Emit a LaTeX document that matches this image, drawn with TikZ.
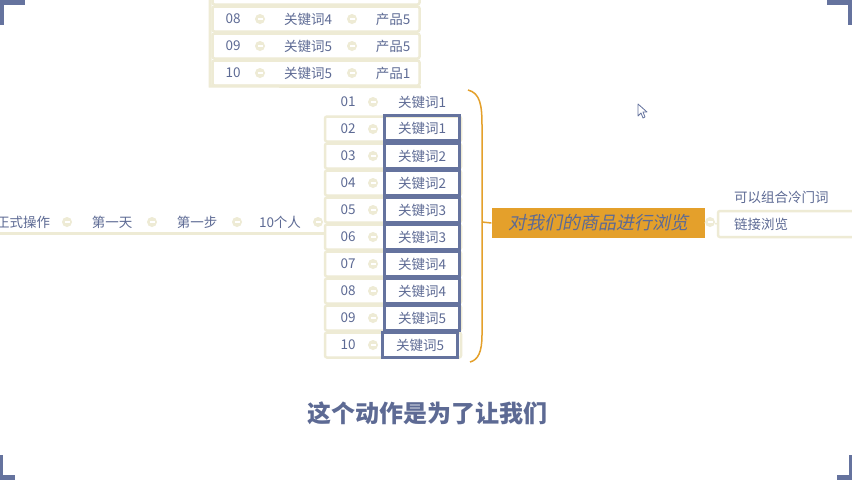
\documentclass[tikz,border=0pt]{standalone}
\usepackage{fontspec}
\setmainfont{Noto Sans CJK SC}
\newfontfamily\slantfont[FakeSlant=0.2]{Noto Sans CJK SC}
\definecolor{slate}{HTML}{65739E}
\definecolor{ink}{HTML}{5D6A94}
\definecolor{beige}{HTML}{EEEBD5}
\definecolor{amber}{HTML}{E4A02B}
\begin{document}
\begin{tikzpicture}[x=1pt, y=-1pt,
    txt/.style={text=ink, font=\fontsize{13.5}{15}\selectfont, inner sep=1pt},
    dot/.style={circle, fill=beige, minimum size=10pt, inner sep=0pt,
        path picture={\draw[white, line width=1.2pt] ([xshift=-2.5pt]path picture bounding box.center) -- ([xshift=2.5pt]path picture bounding box.center);}},
    rowbox/.style={draw=beige, line width=2.5pt, rounded corners=2pt, minimum height=25pt},
    kbox/.style={txt, draw=slate, line width=3.5pt, minimum width=75pt, minimum height=25pt}]
\clip (0,0) rectangle (852,480);
\fill[white] (0,0) rectangle (852,480);

\fill[slate] (0,0) rectangle (25,5);
\fill[slate] (0,0) rectangle (4,25);
\fill[slate] (827,0) rectangle (852,5);
\fill[slate] (848,0) rectangle (852,25);
\fill[slate] (0,475) rectangle (15,480);
\fill[slate] (0,455) rectangle (3,480);
\fill[slate] (837,475) rectangle (852,480);
\fill[slate] (849,455) rectangle (852,480);

\node (t07) at (316,-8) [rowbox, minimum width=207pt] {};
\node (t08) at (316,19) [rowbox, minimum width=207pt] {};
\node (t09) at (316,46) [rowbox, minimum width=207pt] {};
\node (t10) at (316,73) [rowbox, minimum width=207pt] {};
\draw[beige, line width=3pt] (210,0) -- (210,86) -- (t10.south east);
\node (a08) at (233,19) [txt] {08};
\node (b08) at (260,19) [dot] {};
\node (c08) at (308,19) [txt] {关键词4};
\node (e08) at (352,19) [dot] {};
\node (f08) at (393,19) [txt] {产品5};
\node (a09) at (233,46) [txt] {09};
\node (b09) at (260,46) [dot] {};
\node (c09) at (308,46) [txt] {关键词5};
\node (e09) at (352,46) [dot] {};
\node (f09) at (393,46) [txt] {产品5};
\node (a10) at (233,73) [txt] {10};
\node (b10) at (260,73) [dot] {};
\node (c10) at (308,73) [txt] {关键词5};
\node (e10) at (352,73) [dot] {};
\node (f10) at (393,73) [txt] {产品1};

\coordinate (l0) at (0,233);
\coordinate (l1) at (325,233);
\draw[beige, line width=3pt] (l0) -- (l1);
\node (w1) at (23,222) [txt] {正式操作};
\node (d1) at (67,222) [dot] {};
\node (w2) at (112,222) [txt] {第一天};
\node (d2) at (152,222) [dot] {};
\node (w3) at (197,222) [txt] {第一步};
\node (d3) at (237,222) [dot] {};
\node (w4) at (280,222) [txt] {10个人};
\node (d4) at (318,222) [dot] {};

\node (r02) at (393,129) [rowbox, minimum width=136pt] {};
\node (r03) at (393,156) [rowbox, minimum width=136pt] {};
\node (r04) at (393,183) [rowbox, minimum width=136pt] {};
\node (r05) at (393,210) [rowbox, minimum width=136pt] {};
\node (r06) at (393,237) [rowbox, minimum width=136pt] {};
\node (r07) at (393,264) [rowbox, minimum width=136pt] {};
\node (r08) at (393,291) [rowbox, minimum width=136pt] {};
\node (r09) at (393,318) [rowbox, minimum width=136pt] {};
\node (r10) at (393,345) [rowbox, minimum width=136pt] {};

\node (n01) at (348,102) [txt] {01};
\node (n02) at (348,129) [txt] {02};
\node (n03) at (348,156) [txt] {03};
\node (n04) at (348,183) [txt] {04};
\node (n05) at (348,210) [txt] {05};
\node (n06) at (348,237) [txt] {06};
\node (n07) at (348,264) [txt] {07};
\node (n08) at (348,291) [txt] {08};
\node (n09) at (348,318) [txt] {09};
\node (n10) at (348,345) [txt] {10};
\node (p01) at (373,102) [dot] {};
\node (p02) at (373,129) [dot] {};
\node (p03) at (373,156) [dot] {};
\node (p04) at (373,183) [dot] {};
\node (p05) at (373,210) [dot] {};
\node (p06) at (373,237) [dot] {};
\node (p07) at (373,264) [dot] {};
\node (p08) at (373,291) [dot] {};
\node (p09) at (373,318) [dot] {};
\node (p10) at (373,345) [dot] {};
\node (k01) at (422,102) [txt] {关键词1};
\node (k02) at (422,128) [kbox] {关键词1};
\node (k03) at (422,156) [kbox] {关键词2};
\node (k04) at (422,183) [kbox] {关键词2};
\node (k05) at (422,210) [kbox] {关键词3};
\node (k06) at (422,237) [kbox] {关键词3};
\node (k07) at (422,264) [kbox] {关键词4};
\node (k08) at (422,291) [kbox] {关键词4};
\node (k09) at (422,318) [kbox] {关键词5};
\node (k10) at (420,345) [kbox] {关键词5};

\node (main) at (598,223) [fill=amber, minimum width=213pt, minimum height=30pt, text=ink,
    font=\slantfont\fontsize{18}{20}\selectfont] {对我们的商品进行浏览};
\coordinate (b1) at (468,90);
\coordinate (b2) at (470,362);
\coordinate (bm) at (482,222);
\draw[amber, line width=1.5pt] (b1) .. controls (480,93) and (482,105) .. (482,125)
    -- (482,335) .. controls (482,352) and (478,360) .. (b2);
\draw[amber, line width=1.5pt] (bm) -- (main.west);

\node (e1) at (710,222) [dot] {};
\node (rb) at (789,224) [rowbox, minimum width=142pt, minimum height=26pt] {};
\draw[beige, line width=1.5pt] (main.east) -- (e1);
\draw[beige, line width=1.5pt] (e1) -- (rb.west);
\node (rt) at (733,224) [txt, anchor=west] {链接浏览};
\node (ru) at (733,197) [txt, anchor=west] {可以组合冷门词};

\node (sub) at (427,413) [text=ink, font=\bfseries\fontsize{24}{27}\selectfont] {这个动作是为了让我们};

\draw[slate, fill=white, line width=0.8pt, line join=round] (638,104) -- (638,116) -- (641,113)
    -- (643,118) -- (645,117) -- (643,112) -- (647,112) -- cycle;
\end{tikzpicture}
\end{document}
